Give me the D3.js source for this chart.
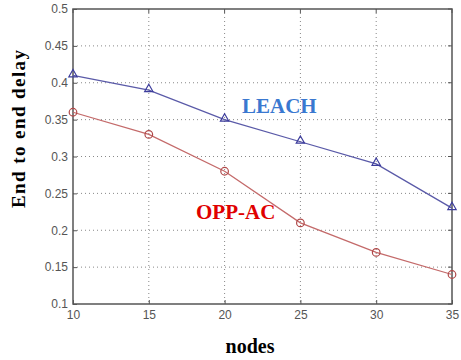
<!doctype html>
<html>
<head>
<meta charset="utf-8">
<title>End to end delay</title>
<script src="https://cdn.jsdelivr.net/npm/d3@7"></script>
<style>
  body { margin: 0; background: #fff; }
  .tick text { font-family: "Liberation Sans", Arial, sans-serif; font-size: 12px; fill: #555; }
</style>
</head>
<body>
<svg width="461" height="360"></svg>
<script>
// chart data
var nodes = [10, 15, 20, 25, 30, 35];
var leach = [0.41, 0.39, 0.35, 0.32, 0.29, 0.23];
var oppac = [0.36, 0.33, 0.28, 0.21, 0.17, 0.14];
var yTicks = [0.1, 0.15, 0.2, 0.25, 0.3, 0.35, 0.4, 0.45, 0.5];

var svg = d3.select("svg");
// plot box edges (don't call it "top", that's window.top)
var plotL = 73, plotR = 452, plotT = 9, plotB = 304;

var x = d3.scaleLinear().domain([10, 35]).range([plotL, plotR]);
var y = d3.scaleLinear().domain([0.1, 0.5]).range([plotB, plotT]);

// dotted grid
svg.append("g").selectAll("line").data(nodes.slice(1, -1)).enter().append("line")
    .attr("x1", function(d) { return x(d); }).attr("x2", function(d) { return x(d); })
    .attr("y1", plotT).attr("y2", plotB)
    .attr("stroke", "#888").attr("stroke-width", 1).attr("stroke-dasharray", "1,3");
svg.append("g").selectAll("line").data(yTicks.slice(1, -1)).enter().append("line")
    .attr("x1", plotL).attr("x2", plotR)
    .attr("y1", function(d) { return y(d); }).attr("y2", function(d) { return y(d); })
    .attr("stroke", "#888").attr("stroke-width", 1).attr("stroke-dasharray", "1,3");

// axes
svg.append("g")
    .attr("transform", "translate(0," + plotB + ")")
    .call(d3.axisBottom(x).tickValues(nodes).tickSize(-4).tickPadding(6).tickFormat(d3.format("d")));
svg.append("g")
    .attr("transform", "translate(" + plotL + ",0)")
    .call(d3.axisLeft(y).tickValues(yTicks).tickSize(-4).tickPadding(5).tickFormat(function(d) { return String(+d.toFixed(2)); }));
svg.selectAll(".domain").remove();
svg.selectAll(".tick line").attr("stroke", "#555");

// right and top ticks
svg.append("g").selectAll("line").data(yTicks).enter().append("line")
    .attr("x1", plotR).attr("x2", plotR - 4)
    .attr("y1", function(d) { return y(d); }).attr("y2", function(d) { return y(d); })
    .attr("stroke", "#555");
svg.append("g").selectAll("line").data(nodes).enter().append("line")
    .attr("x1", function(d) { return x(d); }).attr("x2", function(d) { return x(d); })
    .attr("y1", plotT).attr("y2", plotT + 4)
    .attr("stroke", "#555");

// frame
svg.append("rect")
    .attr("x", plotL).attr("y", plotT)
    .attr("width", plotR - plotL).attr("height", plotB - plotT)
    .attr("fill", "none").attr("stroke", "#555").attr("stroke-width", 1.5);

// lines
var line = d3.line()
    .x(function(d, i) { return x(nodes[i]); })
    .y(function(d) { return y(d); });

svg.append("path").attr("d", line(leach))
    .attr("fill", "none").attr("stroke", "#5a5aa8").attr("stroke-width", 1.3);
svg.append("path").attr("d", line(oppac))
    .attr("fill", "none").attr("stroke", "#c46a6a").attr("stroke-width", 1.3);

// markers
var tri = d3.symbol().type(d3.symbolTriangle).size(30);
svg.append("g").selectAll("path").data(leach).enter().append("path")
    .attr("d", tri)
    .attr("transform", function(d, i) { return "translate(" + x(nodes[i]) + "," + (y(d) - 1) + ")"; })
    .attr("fill", "none").attr("stroke", "#3c3c9c").attr("stroke-width", 1.2);
svg.append("g").selectAll("circle").data(oppac).enter().append("circle")
    .attr("cx", function(d, i) { return x(nodes[i]); })
    .attr("cy", function(d) { return y(d); })
    .attr("r", 3.8)
    .attr("fill", "none").attr("stroke", "#b04848").attr("stroke-width", 1.2);

// labels
var serif = "Liberation Serif, Times New Roman, serif";
svg.append("text").attr("x", 242).attr("y", 113)
    .attr("font-family", serif).attr("font-weight", "bold")
    .attr("font-size", 21).attr("fill", "#3a78d0").text("LEACH");
svg.append("text").attr("x", 196).attr("y", 219)
    .attr("font-family", serif).attr("font-weight", "bold")
    .attr("font-size", 21).attr("fill", "#e00000").text("OPP-AC");

svg.append("text")
    .attr("transform", "translate(25,129) rotate(-90)")
    .attr("text-anchor", "middle")
    .attr("textLength", 158).attr("lengthAdjust", "spacing")
    .attr("font-family", serif).attr("font-weight", "bold")
    .attr("font-size", 19).attr("fill", "#000").text("End to end delay");
svg.append("text")
    .attr("x", 250).attr("y", 353)
    .attr("text-anchor", "middle")
    .attr("font-family", serif).attr("font-weight", "bold")
    .attr("font-size", 20).attr("fill", "#000").text("nodes");
</script>
</body>
</html>
